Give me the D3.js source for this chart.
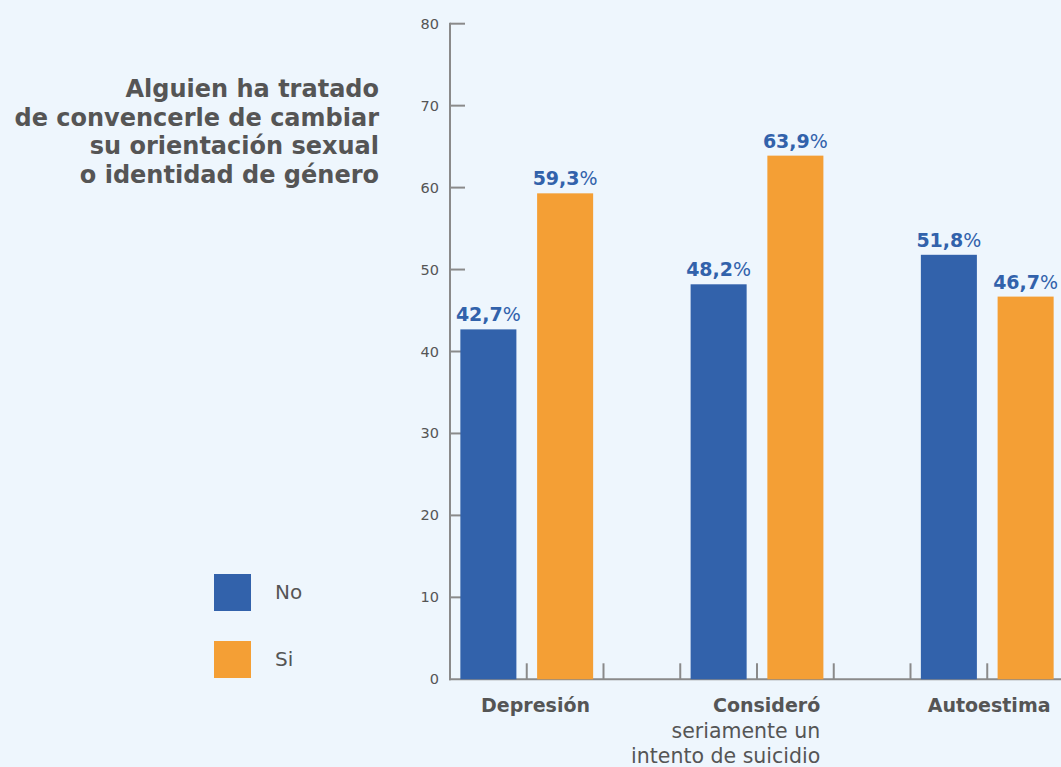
<!DOCTYPE html>
<html><head><meta charset="utf-8">
<script src="https://cdn.jsdelivr.net/npm/d3@7"></script>
<style>
html,body{margin:0;padding:0;background:#eef6fd;}
svg{display:block;}
text{font-family:"DejaVu Sans",sans-serif;}
</style></head>
<body><svg id="c" width="1061" height="767"></svg>
<script>
const categories = ["Depresión", "Consideró", "Autoestima"];
const categorySublines = [[], ["seriamente un", "intento de suicidio"], []];
const series = ["No", "Si"];
const valuesNo = [42.7, 48.2, 51.8];
const valuesSi = [59.3, 63.9, 46.7];
const valueLabelsNo = ["42,7", "48,2", "51,8"];
const valueLabelsSi = ["59,3", "63,9", "46,7"];
const yTicks = [0, 10, 20, 30, 40, 50, 60, 70, 80];
const titleLines = ["Alguien ha tratado", "de convencerle de cambiar", "su orientación sexual", "o identidad de género"];
const colors = {No: "#3262ab", Si: "#f49f35"};

const svg = d3.select("#c");
const axisX = 450, baseY = 679.3, topY = 23.7;
const step = 76.75;
const y = d3.scaleLinear().domain([0, 80]).range([baseY, topY]);
const x0 = d3.scaleBand().domain(categories).range([axisX, axisX + 9 * step]).padding(0);
const x1 = d3.scaleBand().domain(["No", "Si", "gap"]).range([0, x0.bandwidth()]).paddingInner(0.27).paddingOuter(0.135);

const data = categories.map((c, i) => ({cat: c, No: valuesNo[i], Si: valuesSi[i], lNo: valueLabelsNo[i], lSi: valueLabelsSi[i]}));
const axisCol = "#8a8a8a", textCol = "#555555";

// y axis
svg.append("line").attr("x1", axisX).attr("x2", axisX).attr("y1", topY - 1).attr("y2", baseY + 1).attr("stroke", axisCol).attr("stroke-width", 2);
const yt = svg.append("g");
yTicks.forEach(t => {
  if (t > 0) yt.append("line").attr("x1", axisX).attr("x2", axisX + 15).attr("y1", y(t)).attr("y2", y(t)).attr("stroke", axisCol).attr("stroke-width", 2);
  yt.append("text").attr("x", 439).attr("y", y(t) + 5).attr("text-anchor", "end").attr("font-size", 14.5).attr("fill", textCol).text(t);
});

// x axis baseline
svg.append("line").attr("x1", axisX - 1).attr("x2", 1061).attr("y1", baseY).attr("y2", baseY).attr("stroke", axisCol).attr("stroke-width", 2);

// bars
const g = svg.append("g");
data.forEach(d => {
  series.forEach(s => {
    const bx = x0(d.cat) + x1(s);
    g.append("rect").attr("x", bx).attr("y", y(d[s])).attr("width", x1.bandwidth()).attr("height", baseY - y(d[s])).attr("fill", colors[s]);
    const t = g.append("text").attr("x", bx + x1.bandwidth() / 2).attr("y", y(d[s]) - 8).attr("text-anchor", "middle").attr("font-size", 19).attr("fill", "#3262ab");
    t.append("tspan").attr("font-weight", "bold").text(s === "No" ? d.lNo : d.lSi);
    t.append("tspan").text("%");
  });
  // slot ticks
  [1, 2, 3].forEach(k => {
    const tx = x0(d.cat) + k * step;
    g.append("line").attr("x1", tx).attr("x2", tx).attr("y1", baseY - 16).attr("y2", baseY).attr("stroke", axisCol).attr("stroke-width", 2);
  });
});

// category labels
categories.forEach((c, i) => {
  const lx = x0(c) + 140;
  svg.append("text").attr("x", lx).attr("y", 712).attr("text-anchor", "end").attr("font-size", 19).attr("font-weight", "bold").attr("fill", textCol).text(c);
  categorySublines[i].forEach((s, j) => {
    svg.append("text").attr("x", lx).attr("y", 738 + j * 24.5).attr("text-anchor", "end").attr("font-size", 20.5).attr("fill", textCol).text(s);
  });
});

// title
titleLines.forEach((l, i) => {
  svg.append("text").attr("x", 379).attr("y", 97 + i * 28.5).attr("text-anchor", "end").attr("font-size", 24).attr("font-weight", "bold").attr("fill", textCol).text(l);
});

// legend
series.forEach((s, i) => {
  const ly = 574 + i * 67;
  svg.append("rect").attr("x", 214).attr("y", ly).attr("width", 37).attr("height", 37).attr("fill", colors[s]);
  svg.append("text").attr("x", 275).attr("y", ly + 25).attr("font-size", 20).attr("fill", textCol).text(s);
});
</script></body></html>
